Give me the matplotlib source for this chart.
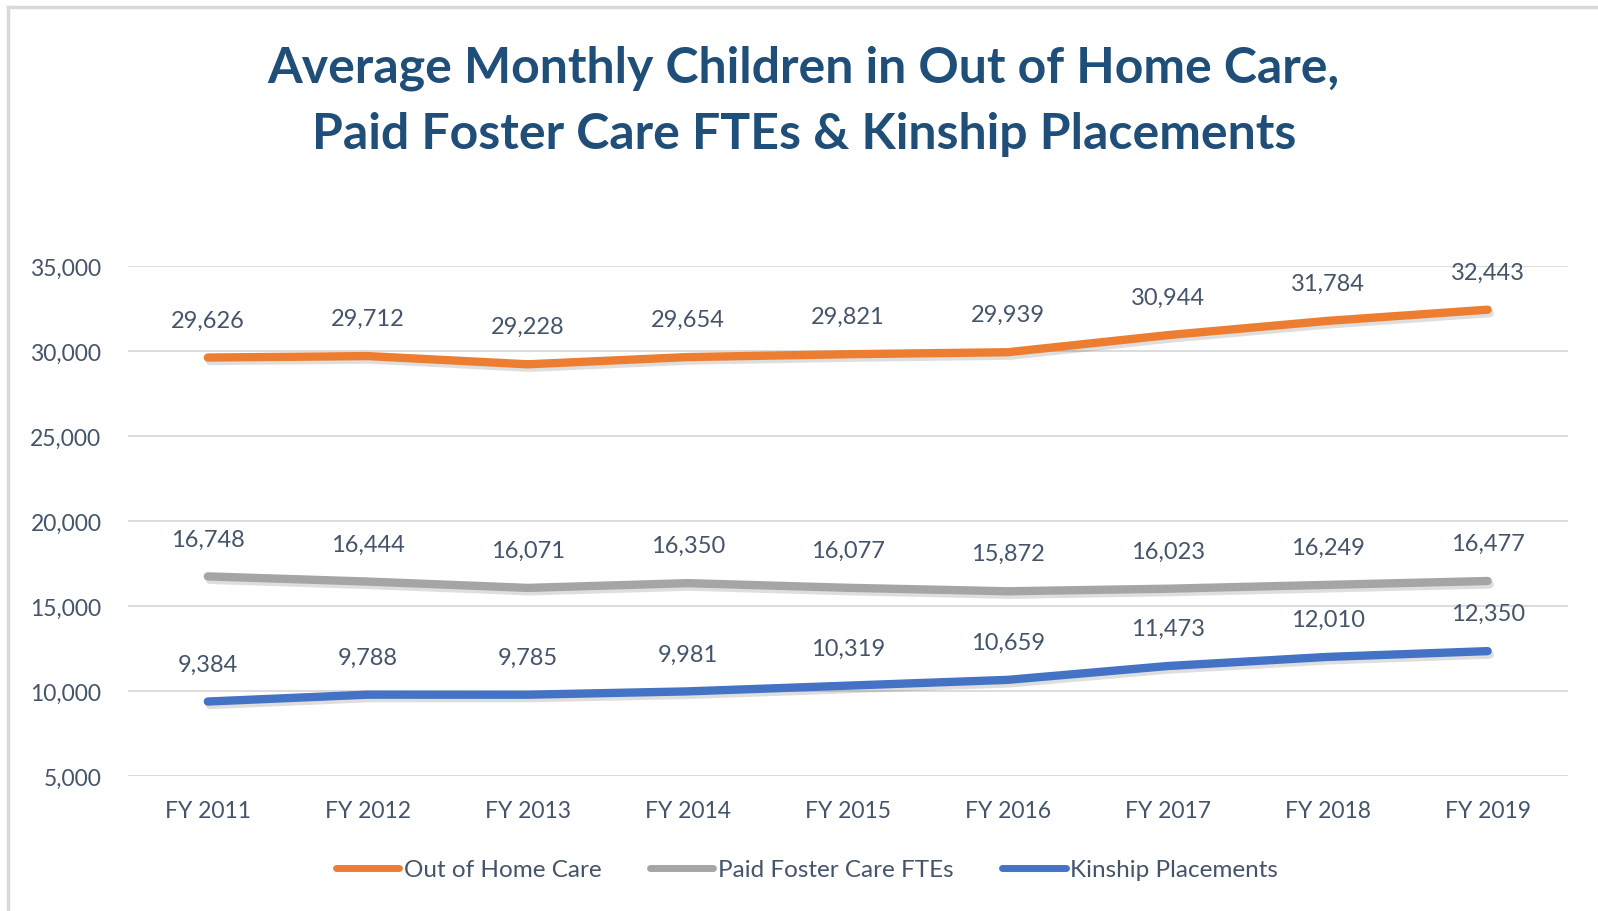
import matplotlib.pyplot as plt
import matplotlib.patheffects as pe
from matplotlib.lines import Line2D

# data
years = ["FY 2011", "FY 2012", "FY 2013", "FY 2014", "FY 2015",
         "FY 2016", "FY 2017", "FY 2018", "FY 2019"]
out_of_home = [29626, 29712, 29228, 29654, 29821, 29939, 30944, 31784, 32443]
foster_ftes = [16748, 16444, 16071, 16350, 16077, 15872, 16023, 16249, 16477]
kinship = [9384, 9788, 9785, 9981, 10319, 10659, 11473, 12010, 12350]

series_names = ["Out of Home Care", "Paid Foster Care FTEs", "Kinship Placements"]
series_colors = ["#ED7D31", "#A5A5A5", "#4472C4"]

text_col = "#44546A"
plt.rcParams['font.family'] = ['Lato', 'DejaVu Sans']

fig = plt.figure(figsize=(15.98, 9.12), dpi=100)
ax = fig.add_axes([0.080, 0.148, 0.901, 0.559])

x = list(range(len(years)))
shadow = [pe.SimpleLineShadow(offset=(1.5, -2.5), shadow_color='black', alpha=0.13, rho=0.3),
          pe.Normal()]

for vals, name, col in zip([out_of_home, foster_ftes, kinship], series_names, series_colors):
    ax.plot(x, vals, color=col, lw=6, solid_capstyle='round', solid_joinstyle='round',
            label=name, path_effects=shadow, zorder=3)
    for xi, v in zip(x, vals):
        ax.annotate(f"{v:,}", (xi, v), xytext=(0, 27), textcoords='offset points',
                    ha='center', va='center', fontsize=17, color=text_col)

ax.set_xlim(-0.5, len(years) - 0.5)
ax.set_ylim(5000, 35000)
ax.set_yticks(range(5000, 35001, 5000))
ax.set_yticklabels([f"{t:,}" for t in range(5000, 35001, 5000)])
ax.set_xticks(x)
ax.set_xticklabels(years)
ax.tick_params(axis='both', length=0, labelsize=16.5, labelcolor=text_col)
ax.tick_params(axis='y', pad=19)
ax.tick_params(axis='x', pad=17)
ax.grid(axis='y', color='#D9D9D9', lw=1.3)
ax.set_axisbelow(True)
for s in ax.spines.values():
    s.set_visible(False)

fig.text(0.503, 0.925, "Average Monthly Children in Out of Home Care,",
         ha='center', va='center', fontsize=36, fontweight='bold', color='#1F4E79')
fig.text(0.503, 0.852, "Paid Foster Care FTEs & Kinship Placements",
         ha='center', va='center', fontsize=36, fontweight='bold', color='#1F4E79')

handles = [Line2D([], [], color=c, lw=5, solid_capstyle='round') for c in series_colors]
fig.legend(handles, series_names, loc='center', bbox_to_anchor=(0.505, 0.045), ncol=3,
           frameon=False, fontsize=17.5, handlelength=2.6, handletextpad=0.2,
           columnspacing=2.0, labelcolor=text_col)

# light frame on the left and top edges
fig.add_artist(Line2D([0.0050, 0.0050], [0.0, 0.9915], color='#D9D9D9', lw=2.5,
                      transform=fig.transFigure))
fig.add_artist(Line2D([0.0050, 1.0], [0.9915, 0.9915], color='#D9D9D9', lw=2.5,
                      transform=fig.transFigure))

fig.savefig("out.png", dpi=100, facecolor='white')
